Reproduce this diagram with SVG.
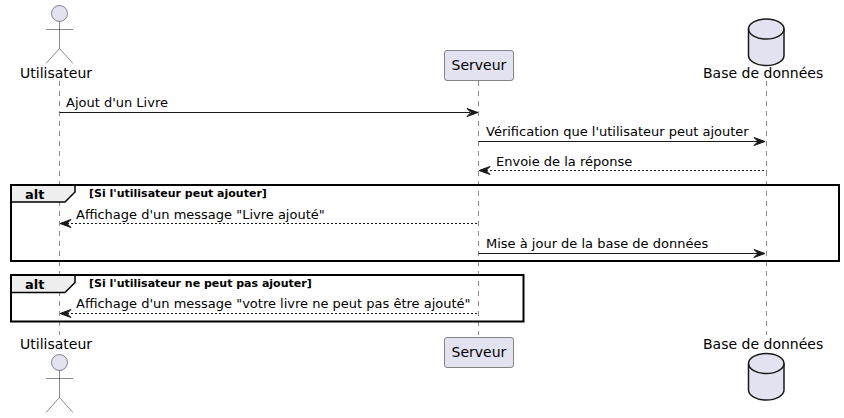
<svg xmlns="http://www.w3.org/2000/svg" width="844" height="418" viewBox="0 0 844 418">
<style>
text{font-family:"DejaVu Sans",sans-serif;fill:#000}
.n{font-size:14px}
.m{font-size:13px}
.b{font-size:11px;font-weight:700}
.t{font-size:13px;font-weight:700}
.life{stroke:#181818;stroke-width:.5;stroke-dasharray:5,5;fill:none}
.msg{stroke:#181818;stroke-width:1;fill:none}
.dash{stroke-dasharray:2,2}
.head{fill:#181818;stroke:#181818;stroke-width:1}
.part{fill:#E2E2F0;stroke:#181818;stroke-width:.5}
.db{fill:#E2E2F0;stroke:#181818;stroke-width:1.5}
.frame{fill:none;stroke:#000;stroke-width:2}
.tab{fill:#EEEEEE;stroke:#000;stroke-width:1.5}
</style>
<defs>
<g id="actor"><circle cx="59.5" cy="13.5" r="8" class="part"/><path d="M59.5 21.5V48.5M46 29.5H73M59.5 48.5L46 63.5M59.5 48.5L73 63.5" fill="none" stroke="#181818" stroke-width=".5"/></g>
<g id="cyl"><path class="db" d="M748.5 29A17.75 10 0 0 1 784 29V55.5A17.75 10 0 0 1 748.5 55.5Z"/><path d="M748.5 29A17.75 10 0 0 0 784 29" fill="none" stroke="#181818" stroke-width="1.5"/></g>
</defs>
<g id="lifelines">
<path class="life" d="M59.5 81V335M478.5 81V335M766.5 81V335"/>
</g>
<g id="frame-alt-1">
<path class="tab" d="M11 185H75V192L65 202H11Z"/>
<rect class="frame" x="11" y="185" width="828" height="76"/>
<text class="t" x="25" y="199">alt</text>
<text class="b" x="89" y="197">[Si l'utilisateur peut ajouter]</text>
</g>
<g id="frame-alt-2">
<path class="tab" d="M11 275H75V282.5L65 292.5H11Z"/>
<rect class="frame" x="11" y="275" width="512.5" height="46.5"/>
<text class="t" x="25" y="289">alt</text>
<text class="b" x="89" y="287">[Si l'utilisateur ne peut pas ajouter]</text>
</g>
<g id="connectors">
<path class="msg" d="M59.5 112.5H470"/><path class="head" d="M467 108.5L478 112.5L467 116.5L471 112.5Z"/>
<path class="msg" d="M478.5 141.5H758"/><path class="head" d="M754 137.5L765 141.5L754 145.5L758 141.5Z"/>
<path class="msg dash" d="M486 170.5H766.5"/><path class="head" d="M490 166.5L479 170.5L490 174.5L486 170.5Z"/>
<path class="msg dash" d="M67 223.5H478.5"/><path class="head" d="M71 219.5L60 223.5L71 227.5L67 223.5Z"/>
<path class="msg" d="M478.5 253.5H758"/><path class="head" d="M754 249.5L765 253.5L754 257.5L758 253.5Z"/>
<path class="msg dash" d="M67 313.5H478.5"/><path class="head" d="M71 309.5L60 313.5L71 317.5L67 313.5Z"/>
</g>
<g id="labels">
<text class="m" x="66" y="107">Ajout d'un Livre</text>
<text class="m" x="486" y="136">Vérification que l'utilisateur peut ajouter</text>
<text class="m" x="496" y="166">Envoie de la réponse</text>
<text class="m" x="76" y="219">Affichage d'un message "Livre ajouté"</text>
<text class="m" x="486" y="248">Mise à jour de la base de données</text>
<text class="m" x="76" y="308">Affichage d'un message "votre livre ne peut pas être ajouté"</text>
</g>
<g id="utilisateur-top"><use href="#actor"/><text class="n" x="20" y="78">Utilisateur</text></g>
<g id="serveur-top"><rect class="part" x="444.5" y="50.5" width="69" height="30" rx="2.5"/><text class="n" x="451.5" y="70">Serveur</text></g>
<g id="base-top"><use href="#cyl"/><text class="n" x="703" y="78">Base de données</text></g>
<g id="utilisateur-bottom"><text class="n" x="20" y="349">Utilisateur</text><use href="#actor" y="349"/></g>
<g id="serveur-bottom"><rect class="part" x="444.5" y="337.5" width="69" height="30" rx="2.5"/><text class="n" x="451.5" y="357">Serveur</text></g>
<g id="base-bottom"><text class="n" x="703" y="349">Base de données</text><use href="#cyl" y="334.5"/></g>
</svg>
